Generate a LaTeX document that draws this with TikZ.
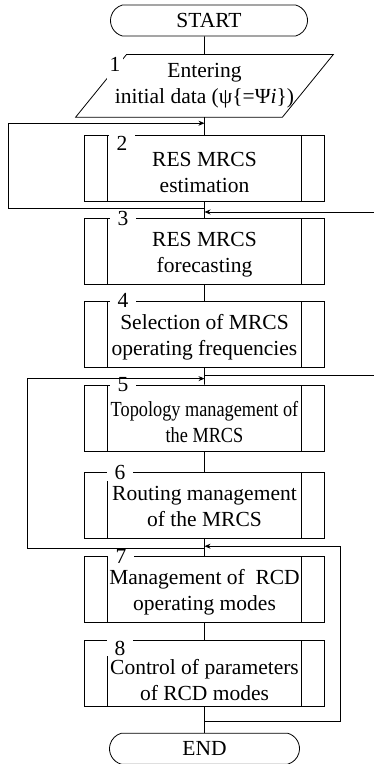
\documentclass[tikz,border=0pt]{standalone}
\usepackage{fontspec}
\usepackage{graphicx}
\setmainfont{Liberation Serif}
\usetikzlibrary{positioning,shapes.misc,arrows.meta}

\tikzset{
  term/.style={draw, rounded rectangle, rounded rectangle arc length=150,
    minimum width=197pt, minimum height=31pt, inner sep=0pt},
  io/.style={minimum width=206pt, minimum height=62pt, align=center, inner sep=0pt},
  proc/.style={draw, rectangle, minimum width=240pt, minimum height=66pt,
    text height=47.5pt, text depth=5.5pt, align=center, inner sep=0pt,
    path picture={
      \draw ([xshift=23pt]path picture bounding box.north west) -- ([xshift=23pt]path picture bounding box.south west);
      \draw ([xshift=-23pt]path picture bounding box.north east) -- ([xshift=-23pt]path picture bounding box.south east);
    }},
  num/.style={fill=white, inner xsep=7.5pt, inner ysep=1pt},
  numlow/.style={num, anchor=north, inner ysep=1pt, yshift=0.5pt},
  flow/.style={-{Stealth[length=6pt,width=5pt]}},
}

\begin{document}
\begin{tikzpicture}[x=1pt, y=1pt, line width=0.8pt, font=\fontsize{21.5}{26}\selectfont]
    \useasboundingbox (0,0) rectangle (374,-764);
    \node[term] (start) at (209,-20.5) {START};
    \node[io] [below=18pt of start, xshift=-4.5pt] (input) {Entering\\initial data (ψ\{=Ψ\textit{i}\})};
    \draw ([xshift=-25.5pt]input.south west) -- ([xshift=-25.5pt]input.south east) --
          ([xshift=25.5pt]input.north east) -- ([xshift=25.5pt]input.north west) -- cycle;
    \node[proc, text height=50.5pt, text depth=2.5pt] [below=18pt of input] (estim) {RES MRCS\\estimation};
    \node[proc] [below=16pt of estim] (forec) {RES MRCS\\forecasting};
    \node[proc] [below=16pt of forec] (freq) {Selection of MRCS\\operating frequencies};
    \node[proc, text height=50.5pt, text depth=2.5pt] [below=17pt of freq] (topol) {\scalebox{0.85}[1]{Topology management of}\\\scalebox{0.85}[1]{the MRCS}};
    \node[proc] [below=21pt of topol] (rout) {Routing management\\of the MRCS};
    \node[proc] [below=17pt of rout] (modes) {Management of\ \ RCD\\operating modes};
    \node[proc, text height=53.5pt, text depth=0pt] [below=17pt of modes] (ctrl) {Control of parameters\\of RCD modes};
    \node[term, minimum width=190pt] [below=26pt of ctrl] (end) {END};

    % block numbers
    \node[num, inner xsep=3pt, text depth=7pt, anchor=north] (n1) at ([xshift=14pt,yshift=-2pt]input.north west) {1};
    \node[numlow] (n2) at ([xshift=38pt]estim.north west) {2};
    \node[num] (n3) at ([xshift=39pt]forec.north west) {3};
    \node[num] (n4) at ([xshift=39pt]freq.north west) {4};
    \node[num] (n5) at ([xshift=39pt]topol.north west) {5};
    \node[num] (n6) at ([xshift=36pt]rout.north west) {6};
    \node[num] (n7) at ([xshift=37pt]modes.north west) {7};
    \node[numlow] (n8) at ([xshift=36pt]ctrl.north west) {8};

    \draw (start.south -| input.north) -- (input) -- (estim) -- (forec) -- (freq) --
          (topol) -- (rout) -- (modes) -- (ctrl) -- (end);

    % feedback loops
    \coordinate (lx1) at (8,0);
    \coordinate (lx2) at (27,0);
    \coordinate (rx1) at (377,0);
    \coordinate (rx2) at (340,0);
    \coordinate (t1) at ([yshift=-6pt]estim.south);
    \coordinate (a1) at ([yshift=-6pt]input.south);
    \coordinate (t2) at ([yshift=-8pt]freq.south);
    \coordinate (a2) at ([yshift=-10pt]estim.south);
    \coordinate (t3) at ([yshift=-9pt]rout.south);
    \coordinate (a3) at ([yshift=-11pt]freq.south);
    \coordinate (t4) at ([yshift=-15pt]ctrl.south);
    \coordinate (a4) at ([yshift=-7pt]rout.south);
    \draw[flow] (t1) -- (t1 -| lx1) |- (a1);
    \draw[flow] (t2) -- (t2 -| rx1) |- (a2);
    \draw[flow] (t3) -- (t3 -| lx2) |- (a3);
    \draw[flow] (t4) -- (t4 -| rx2) |- (a4);
\end{tikzpicture}
\end{document}
